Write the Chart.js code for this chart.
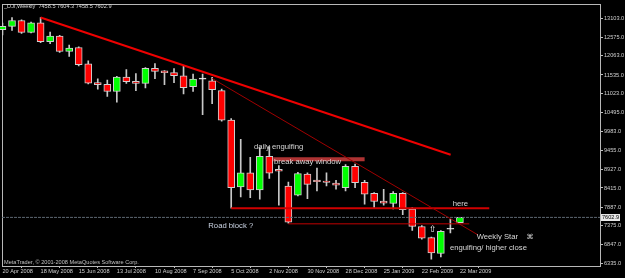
<!DOCTYPE html>
<html><head><meta charset="utf-8">
<script src="https://cdn.jsdelivr.net/npm/chart.js@4/dist/chart.umd.min.js"></script>
<style>html,body{margin:0;padding:0;background:#000;overflow:hidden}canvas{display:block}</style>
</head><body>
<canvas id="c" width="625" height="278"></canvas>
<script>
// ---- data ----
const weeks = ['20 Apr 2008','27 Apr 2008','4 May 2008','11 May 2008','18 May 2008','25 May 2008','1 Jun 2008','8 Jun 2008','15 Jun 2008','22 Jun 2008','29 Jun 2008','6 Jul 2008','13 Jul 2008','20 Jul 2008','27 Jul 2008','3 Aug 2008','10 Aug 2008','17 Aug 2008','24 Aug 2008','31 Aug 2008','7 Sep 2008','14 Sep 2008','21 Sep 2008','28 Sep 2008','5 Oct 2008','12 Oct 2008','19 Oct 2008','26 Oct 2008','2 Nov 2008','9 Nov 2008','16 Nov 2008','23 Nov 2008','30 Nov 2008','7 Dec 2008','14 Dec 2008','21 Dec 2008','28 Dec 2008','4 Jan 2009','11 Jan 2009','18 Jan 2009','25 Jan 2009','1 Feb 2009','8 Feb 2009','15 Feb 2009','22 Feb 2009','1 Mar 2009','8 Mar 2009','15 Mar 2009','22 Mar 2009'];
const openV  = [12784,12877,13040,12713,12975,12457,12612,12184,12293,11841,11323,11277,11078,11476,11358,11304,11721,11650,11604,11514,11209,11421,11377,11105,10287,8442,8831,8360,9286,8932,8469,8215,8796,8632,8605,8551,8422,9014,8570,8270,8052,7986,8270,7834,7351,7043,6607,7275,7458.5];
const highV  = [12967,13122,13057,12994,13122,12721,12631,12359,12312,11923,11432,11394,11495,11685,11576,11740,11849,11660,11713,11775,11557,11557,11467,11149,10331,9758,9259,9532,9559,9033,8578,8850,8831,8968,8831,8624,9060,9077,8624,8286,8379,8313,8286,7877,7378,7060,7242,7547,7604.3];
const lowV   = [12640,12768,12686,12694,12430,12402,12157,12048,11786,11285,11140,10941,10786,11304,11105,11176,11432,11268,11323,11012,11078,10440,10740,10260,7861,8169,8150,8106,8679,7943,7441,8196,8123,8332,8469,8379,8332,8422,7970,7877,7943,7834,7678,7242,7005,6452,6514,7174,7458.5];
const closeV = [12877,13040,12713,12975,12457,12612,12184,12277,11822,11312,11268,11078,11476,11350,11304,11721,11631,11596,11514,11187,11421,11421,11132,10287,8422,8831,8360,9286,8823,8878,7468,8815,8515,8586,8570,8496,9014,8559,8243,8041,7997,8270,7815,7351,7032,6623,7215,7275,7602.9];
const yTickValues = [13103,12575,12063,11535,11023,10495,9983,9455,8927,8415,7887,7375,6847,6335];
const xTickLabels = ['20 Apr 2008','18 May 2008','15 Jun 2008','13 Jul 2008','10 Aug 2008','7 Sep 2008','5 Oct 2008','2 Nov 2008','30 Nov 2008','28 Dec 2008','25 Jan 2009','22 Feb 2009','22 Mar 2009'];
// drawn objects (bar index, price)
const mainTrend   = [[4.0, 13122], [47.03, 9333]];
const thinTrend   = [[22.0, 11440], [49.9, 7119]];
const roadBlock   = [[24.0, 7855], [51.08, 7855]];
const lowerLine   = [[30.0, 7425], [48.98, 7425]];
const windowBand  = [[28.4, 9205], [38.0, 9205]];
const lastPrice = closeV[closeV.length - 1];

const notes = [
  {text:'daily engulfing', x:26.4, y:9559},
  {text:'break away window', x:28.5, y:9136},
  {text:'Road block ?', x:21.6, y:7365, color:'#cdd6e6'},
  {text:'here', x:47.24, y:7964},
  {text:'Weekly Star', x:49.76, y:7070},
  {text:'\u2318', x:55.0, y:7070, size:7},
  {text:'engulfing/ higher close', x:46.96, y:6765},
  {text:'\u21E7', x:44.75, y:7261, size:9, color:'#ffffff'}
];

const X_MIN = -0.05, X_MAX = 62.7, Y_MIN = 6261, Y_MAX = 13485;
const AX_FONT = {family:'Liberation Sans', size:5.6};

function pts(a){ return a.map(p => ({x:p[0], y:p[1]})); }
function lineDs(a, color, w, dash){
  return {type:'line', data:pts(a), borderColor:color, borderWidth:w, borderDash:dash||[],
          pointRadius:0, tension:0, fill:false, order:0, clip:false};
}

const overlay = {
  id:'overlay',
  beforeDatasetsDraw(chart){
    const {ctx, chartArea:a} = chart;
    ctx.save();
    ctx.strokeStyle = '#b8b8b8';
    ctx.lineWidth = 1;
    ctx.strokeRect(Math.floor(a.left)+0.5, Math.floor(a.top)+0.5, Math.round(a.right-a.left), Math.round(a.bottom-a.top));
    ctx.restore();
  },
  afterDraw(chart){
    const {ctx, chartArea:a, scales:{x, y}} = chart;
    ctx.save();
    ctx.textBaseline = 'middle';
    ctx.textAlign = 'left';
    // title
    ctx.fillStyle = '#d8d8d8';
    ctx.font = '5.6px "Liberation Sans"';
    const n = openV.length - 1;
    ctx.fillText('_DJI,Weekly  ' + openV[n].toFixed(1) + ' ' + highV[n].toFixed(1) + ' ' + lowV[n].toFixed(1) + ' ' + closeV[n].toFixed(1), 4, 6);
    ctx.fillStyle = '#c0c0c0';
    ctx.fillText('MetaTrader, \u00A9 2001-2008 MetaQuotes Software Corp.', 4, 262.7);
    // notes
    for (const t of notes){
      ctx.fillStyle = t.color || '#d8d8d8';
      ctx.font = (t.size || 7.7) + 'px "Liberation Sans", "DejaVu Sans"';
      ctx.fillText(t.text, x.getPixelForValue(t.x), y.getPixelForValue(t.y));
    }
    // last price label
    const py = y.getPixelForValue(lastPrice);
    ctx.fillStyle = '#e8e8e8';
    ctx.fillRect(a.right + 1, Math.round(py) - 3, 19, 7);
    ctx.fillStyle = '#000';
    ctx.font = '5.6px "Liberation Sans"';
    ctx.fillText(lastPrice.toFixed(1), a.right + 2, Math.round(py) + 0.5);
    ctx.restore();
  }
};

Chart.defaults.font.family = 'Liberation Sans';
new Chart(document.getElementById('c'), {
  type:'bar',
  data:{
    datasets:[
      lineDs(mainTrend, '#ee0000', 2),
      lineDs(thinTrend, '#a00000', 1),
      lineDs(roadBlock, '#d00000', 2),
      lineDs(lowerLine, '#c00000', 1),
      lineDs(windowBand, 'rgba(205,60,60,0.85)', 4),
      lineDs([[X_MIN, lastPrice],[X_MAX, lastPrice]], '#5c6670', 1, [3,1]),
      {
        type:'bar', label:'body',
        data: weeks.map((w,i) => ({x:i, y:[openV[i], closeV[i]]})),
        backgroundColor: weeks.map((w,i) => closeV[i] > openV[i] ? '#00ff00' : (closeV[i] < openV[i] ? '#ff0000' : '#ffffff')),
        borderColor:'#d0d0d0', borderWidth:1, borderSkipped:false,
        barThickness:7, minBarLength:1, grouped:false, order:1, clip:false
      },
      {
        type:'bar', label:'wick',
        data: weeks.map((w,i) => ({x:i, y:[lowV[i], highV[i]]})),
        backgroundColor:'#c8c8c8', borderWidth:0,
        barThickness:1, grouped:false, order:2
      }
    ]
  },
  options:{
    responsive:false, animation:false, devicePixelRatio:1,
    layout:{padding:{left:2, top:1, right:0, bottom:0}},
    plugins:{legend:{display:false}, tooltip:{enabled:false}, title:{display:false}},
    scales:{
      x:{
        type:'linear', min:X_MIN, max:X_MAX, offset:false,
        grid:{display:true, drawOnChartArea:false, drawTicks:true, tickLength:2, color:'#c0c0c0'},
        border:{display:true, color:'#c0c0c0'},
        afterBuildTicks(s){ s.ticks = xTickLabels.map(l => ({value: weeks.indexOf(l)})); },
        afterFit(s){ s.height = 12; },
        ticks:{autoSkip:false, maxRotation:0, minRotation:0, align:'start', padding:0, color:'#d0d0d0', font:AX_FONT,
          callback(v){ return weeks[Math.round(v)] || ''; }}
      },
      y:{
        type:'linear', position:'right', min:Y_MIN, max:Y_MAX,
        grid:{display:true, drawOnChartArea:false, drawTicks:true, tickLength:3, color:'#c0c0c0'},
        border:{display:true, color:'#c0c0c0'},
        afterBuildTicks(s){ s.ticks = yTickValues.map(v => ({value:v})); },
        afterFit(s){ s.width = 25; },
        ticks:{padding:1, color:'#d0d0d0', font:AX_FONT, callback(v){ return Number(v).toFixed(1); }}
      }
    }
  },
  plugins:[overlay]
});
</script>
</body></html>
